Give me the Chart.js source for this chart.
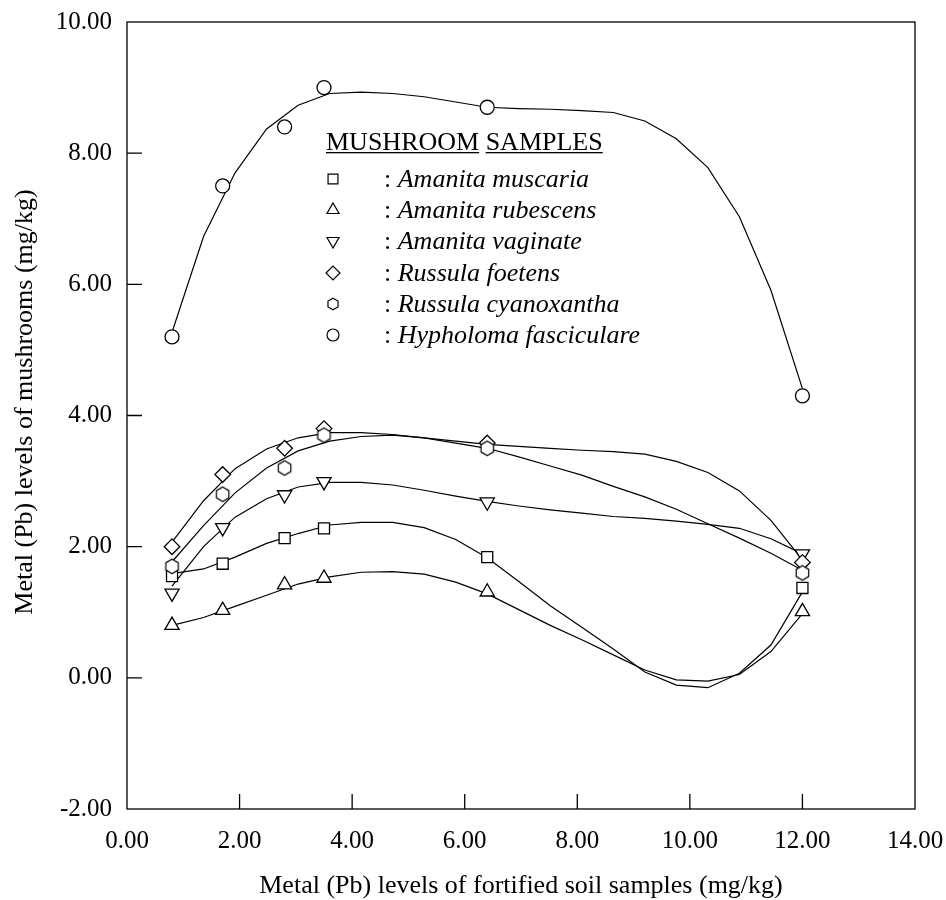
<!DOCTYPE html>
<html>
<head>
<meta charset="utf-8">
<script src="https://cdn.jsdelivr.net/npm/chart.js@4.4.1/dist/chart.umd.min.js"></script>
<style>
  html, body { margin: 0; padding: 0; background: #fff; }
</style>
</head>
<body>
<canvas id="pbChart" width="946" height="900"></canvas>
<script>
// soil Pb levels where mushrooms were sampled
const soilLevels = [0.8, 1.7, 2.8, 3.5, 6.4, 12.0];

// measured Pb in mushrooms (mg/kg)
const muscaria = [1.55, 1.74, 2.13, 2.28, 1.84, 1.37];
const rubescens = [0.80, 1.03, 1.42, 1.52, 1.31, 1.01];
const vaginate = [1.29, 2.29, 2.79, 2.99, 2.68, 1.89];
const foetens = [2.00, 3.10, 3.50, 3.80, 3.58, 1.76];
const cyanoxantha = [1.70, 2.80, 3.20, 3.70, 3.50, 1.60];
const hypholoma = [5.20, 7.50, 8.40, 9.00, 8.70, 4.30];

// x positions of the fitted curve vertices
const fitLevels = [0.8, 1.36, 1.92, 2.48, 3.04, 3.6, 4.16, 4.72, 5.28, 5.84, 6.4,
  6.96, 7.52, 8.08, 8.64, 9.2, 9.76, 10.32, 10.88, 11.44, 12.0];

// fitted curves
const muscariaFit = [1.59, 1.66, 1.84, 2.05, 2.20, 2.33, 2.37, 2.37, 2.29, 2.11, 1.83,
  1.47, 1.10, 0.77, 0.44, 0.09, -0.11, -0.15, 0.07, 0.50, 1.31];
const rubescensFit = [0.80, 0.92, 1.09, 1.26, 1.43, 1.54, 1.61, 1.62, 1.58, 1.46, 1.28,
  1.04, 0.80, 0.58, 0.35, 0.12, -0.03, -0.05, 0.05, 0.40, 0.98];
const vaginateFit = [1.40, 2.00, 2.45, 2.73, 2.91, 2.98, 2.98, 2.94, 2.86, 2.77, 2.69,
  2.62, 2.56, 2.51, 2.46, 2.43, 2.39, 2.34, 2.28, 2.12, 1.89];
const foetensFit = [2.07, 2.70, 3.19, 3.49, 3.66, 3.74, 3.74, 3.71, 3.66, 3.61, 3.56,
  3.53, 3.50, 3.47, 3.45, 3.41, 3.30, 3.13, 2.85, 2.40, 1.80];
const cyanoxanthaFit = [1.77, 2.32, 2.82, 3.20, 3.46, 3.61, 3.68, 3.70, 3.66, 3.58, 3.50,
  3.37, 3.23, 3.09, 2.92, 2.76, 2.57, 2.35, 2.13, 1.90, 1.64];
const hypholomaFit = [5.27, 6.73, 7.70, 8.37, 8.73, 8.91, 8.93, 8.91, 8.86, 8.78, 8.70,
  8.68, 8.67, 8.65, 8.62, 8.49, 8.22, 7.78, 7.03, 5.91, 4.41];

const speciesNames = ['Amanita muscaria', 'Amanita rubescens', 'Amanita vaginate',
  'Russula foetens', 'Russula cyanoxantha', 'Hypholoma fasciculare'];

const FONT = "'Liberation Serif', 'Times New Roman', serif";

// hexagon marker (no built-in style for it)
function makeHexagon(r) {
  const c = document.createElement('canvas');
  const s = Math.ceil(r * 2 + 4);
  c.width = s; c.height = s;
  const g = c.getContext('2d');
  g.beginPath();
  for (let k = 0; k < 6; k++) {
    const a = -Math.PI / 2 + k * Math.PI / 3;
    const px = s / 2 + r * Math.cos(a), py = s / 2 + r * Math.sin(a);
    if (k === 0) g.moveTo(px, py); else g.lineTo(px, py);
  }
  g.closePath();
  g.fillStyle = '#fff';
  g.fill();
  g.lineWidth = 1.2;
  g.strokeStyle = '#000';
  g.stroke();
  return c;
}
const hexPlot = makeHexagon(7.2);
const hexLegend = makeHexagon(5.8);

const markers = [
  { style: 'rect', radius: 7.8, rotation: 0 },
  { style: 'triangle', radius: 8.2, rotation: 0 },
  { style: 'triangle', radius: 8.2, rotation: 180 },
  { style: 'rectRot', radius: 7.8, rotation: 0 },
  { style: hexPlot, radius: 7, rotation: 0 },
  { style: 'circle', radius: 7, rotation: 0 }
];
const legendMarkers = [
  { style: 'rect', radius: 7, rotation: 0 },
  { style: 'triangle', radius: 7, rotation: 0 },
  { style: 'triangle', radius: 7, rotation: 180 },
  { style: 'rectRot', radius: 7, rotation: 0 },
  { style: hexLegend, radius: 5.5, rotation: 0 },
  { style: 'circle', radius: 6, rotation: 0 }
];

const measured = [muscaria, rubescens, vaginate, foetens, cyanoxantha, hypholoma];
const fitted = [muscariaFit, rubescensFit, vaginateFit, foetensFit, cyanoxanthaFit, hypholomaFit];

const datasets = [];
// markers first (drawn on top); hexagon above square
const markerOrder = [5, 4, 3, 2, 1, 0];
markerOrder.forEach(i => {
  datasets.push({
    label: speciesNames[i],
    data: soilLevels.map((x, j) => ({ x: x, y: measured[i][j] })),
    showLine: false,
    pointStyle: markers[i].style,
    pointRadius: markers[i].radius,
    pointRotation: markers[i].rotation,
    pointBackgroundColor: '#fff',
    pointBorderColor: '#000',
    pointBorderWidth: 1.3,
    order: 0
  });
});
fitted.forEach((vals, i) => {
  datasets.push({
    label: speciesNames[i] + ' fit',
    data: fitLevels.map((x, j) => ({ x: x, y: vals[j] })),
    showLine: true,
    borderColor: '#000',
    borderWidth: 1.2,
    pointRadius: 0,
    tension: 0,
    order: 1
  });
});

// frame, inward ticks, axis titles and the legend block
const framePlugin = {
  id: 'frame',
  beforeDatasetsDraw(chart) {
    const { ctx, chartArea: a, scales } = chart;
    ctx.save();
    ctx.strokeStyle = '#000';
    ctx.lineWidth = 1.3;
    ctx.strokeRect(a.left, a.top, a.right - a.left, a.bottom - a.top);
    ctx.beginPath();
    scales.x.ticks.forEach(t => {
      if (t.value <= scales.x.min || t.value >= scales.x.max) return;
      const px = scales.x.getPixelForValue(t.value);
      ctx.moveTo(px, a.bottom);
      ctx.lineTo(px, a.bottom - 15);
    });
    scales.y.ticks.forEach(t => {
      if (t.value <= scales.y.min || t.value >= scales.y.max) return;
      const py = scales.y.getPixelForValue(t.value);
      ctx.moveTo(a.left, py);
      ctx.lineTo(a.left + 15, py);
    });
    ctx.stroke();
    ctx.restore();
  },
  afterDraw(chart) {
    const { ctx, chartArea: a } = chart;
    ctx.save();
    ctx.fillStyle = '#000';
    ctx.font = '26px ' + FONT;
    ctx.textAlign = 'center';
    ctx.textBaseline = 'alphabetic';
    ctx.fillText('Metal (Pb) levels of fortified soil samples (mg/kg)', (a.left + a.right) / 2, 893);
    ctx.save();
    ctx.translate(32, 402);
    ctx.rotate(-Math.PI / 2);
    ctx.fillText('Metal (Pb) levels of mushrooms (mg/kg)', 0, 0);
    ctx.restore();

    // legend heading, each word underlined
    ctx.textAlign = 'left';
    ctx.font = '26px ' + FONT;
    let lx = 326;
    const ly = 150;
    ['MUSHROOM', 'SAMPLES'].forEach(w => {
      const wd = ctx.measureText(w).width;
      ctx.fillText(w, lx, ly);
      ctx.fillRect(lx, ly + 2, wd, 1.3);
      lx += wd + ctx.measureText(' ').width;
    });

    const rowY = [187, 218, 249, 281, 312, 343];
    speciesNames.forEach((name, i) => {
      const m = legendMarkers[i];
      const cy = rowY[i] - 8;
      ctx.save();
      ctx.fillStyle = '#fff';
      ctx.strokeStyle = '#000';
      ctx.lineWidth = 1.2;
      Chart.helpers.drawPoint(ctx, { pointStyle: m.style, radius: m.radius, rotation: m.rotation, borderWidth: 1.2 }, 333, cy);
      ctx.restore();
      ctx.font = '26px ' + FONT;
      ctx.fillText(':', 384, rowY[i]);
      const cw = ctx.measureText(': ').width;
      ctx.font = 'italic 26px ' + FONT;
      ctx.fillText(name, 384 + cw, rowY[i]);
    });
    ctx.restore();
  }
};

Chart.defaults.font.family = FONT;
Chart.defaults.color = '#000';

new Chart(document.getElementById('pbChart').getContext('2d'), {
  type: 'scatter',
  data: { datasets: datasets },
  options: {
    responsive: false,
    animation: false,
    layout: { padding: { top: 22, right: 31, left: 0, bottom: 0 } },
    plugins: { legend: { display: false }, tooltip: { enabled: false } },
    scales: {
      x: {
        type: 'linear',
        min: 0, max: 14,
        grid: { display: false, drawTicks: false },
        border: { display: false },
        ticks: { stepSize: 2, padding: 17, font: { size: 25 }, callback: v => v.toFixed(2) },
        afterFit: s => { s.height = 91; s.paddingLeft = 0; s.paddingRight = 0; }
      },
      y: {
        type: 'linear',
        min: -2, max: 10,
        grid: { display: false, drawTicks: false },
        border: { display: false },
        ticks: { stepSize: 2, padding: 15, font: { size: 25 }, callback: v => v.toFixed(2) },
        afterFit: s => { s.width = 127; s.paddingTop = 0; s.paddingBottom = 0; }
      }
    }
  },
  plugins: [framePlugin]
});
</script>
</body>
</html>
